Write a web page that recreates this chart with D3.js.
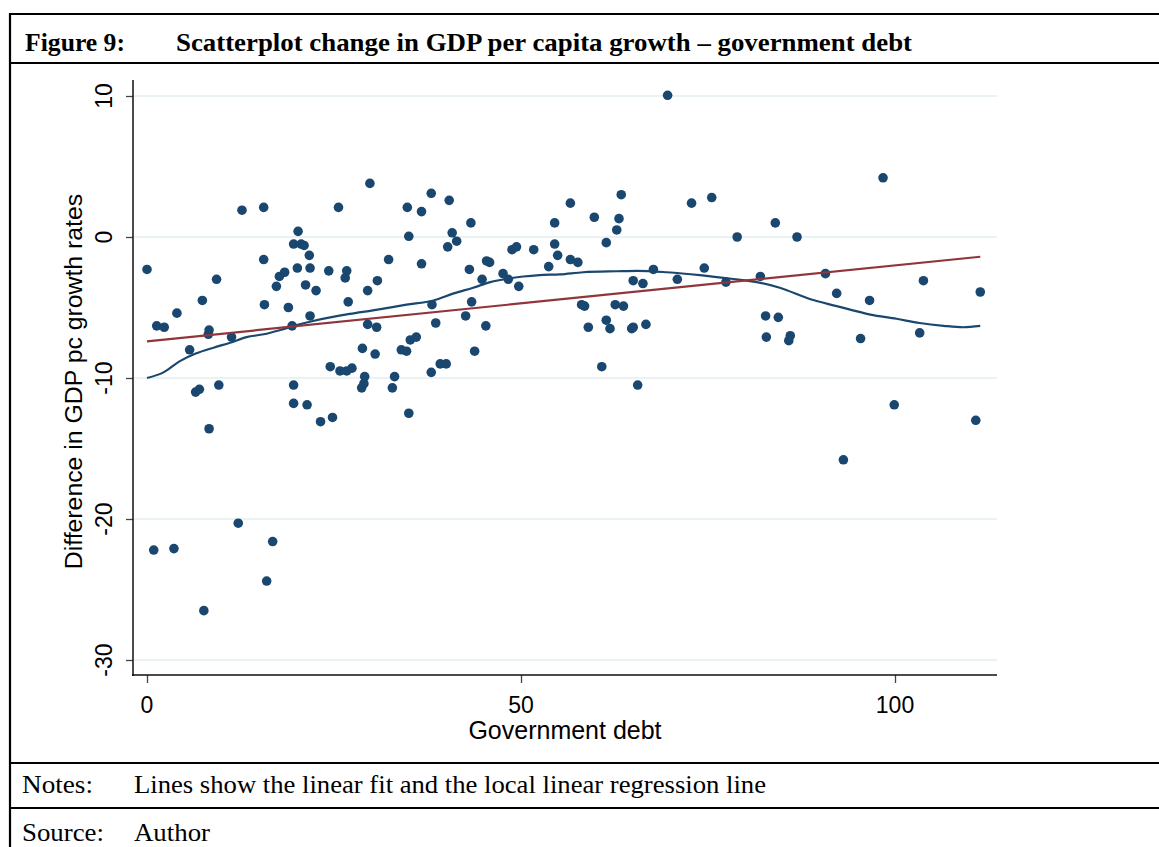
<!DOCTYPE html>
<html>
<head>
<meta charset="utf-8">
<script src="https://cdn.jsdelivr.net/npm/d3@7"></script>
<style>
  html, body { margin: 0; padding: 0; background: #fff; }
  svg { display: block; }
</style>
</head>
<body>
<svg id="chart" width="1159" height="847"></svg>
<script>
// ---------- DATA ----------
const debt = [
  0, 1.3, 2.3, 4.0, 5.7, 7.4, 8.3, 8.2, 9.3, 11.3, 12.7, 15.6, 15.6, 15.7, 17.3, 17.7, 18.4, 18.9, 19.4, 19.6,
  20.2, 20.6, 21.0, 21.7, 20.1, 21.8, 21.2, 22.6, 21.8, 24.3, 25.6, 26.5, 26.7, 26.9, 24.5, 25.8, 26.7,
  6.5, 7.0, 9.6, 8.3, 19.6, 19.6, 21.4, 23.2, 24.8, 0.9, 3.6, 12.2, 16.8, 16.0, 7.6,
  29.8, 32.3, 29.5, 30.8, 29.5, 30.7, 28.8, 30.5, 27.4, 29.1, 33.1, 34.8, 36.7, 35.0, 36.7, 38.0, 40.4, 40.8,
  41.4, 40.2, 43.3, 43.1, 45.4, 45.8, 44.8, 47.6, 48.3, 49.7, 48.8, 49.4, 51.7, 53.7, 54.5, 54.5, 54.9,
  38.1, 43.4, 38.6, 42.6, 45.3, 34.0, 34.7, 35.2, 36.0, 43.8, 38.0, 39.2, 40.0,
  29.0, 28.7, 32.8, 35.0,
  69.6, 56.6, 56.6, 57.6, 59.8, 63.1, 63.4, 62.8, 61.4, 58.1, 58.5, 59.0, 61.4, 61.9, 62.6, 63.7, 65.0, 66.3,
  64.8, 65.0, 66.7, 60.8, 67.7, 70.9, 72.8, 75.5, 74.5, 77.4, 78.9, 82.0, 84.0, 82.7, 84.4, 82.8,
  86.9, 98.4, 90.7, 92.2, 96.6, 103.8, 111.4, 86.0, 85.8, 95.4, 103.3,
  65.6, 99.9, 110.8, 93.1
];
const growthDiff = [
  -2.3, -6.3, -6.4, -5.4, -8.0, -4.5, -6.6, -6.9, -3.0, -7.1, 1.9, 2.1, -1.6, -4.8, -3.5, -2.8, -2.5, -5.0, -6.3, -0.5,
  0.4, -0.5, -0.6, -1.3, -2.2, -2.2, -3.4, -3.8, -5.6, -2.4, 2.1, -2.9, -2.4, -4.6, -9.2, -9.5, -9.5,
  -11.0, -10.8, -10.5, -13.6, -10.5, -11.8, -11.9, -13.1, -12.8, -22.2, -22.1, -20.3, -21.6, -24.4, -26.5,
  3.8, -1.6, -3.8, -3.1, -6.2, -6.4, -7.9, -8.3, -9.3, -9.9, -9.9, 2.1, 1.8, 0.05, -1.9, 3.1, 2.6, 0.3,
  -0.3, -0.7, 1.0, -2.3, -1.7, -1.8, -3.0, -2.6, -3.0, -3.5, -0.9, -0.7, -0.9, -2.1, 1.0, -0.5, -1.3,
  -4.8, -4.6, -6.1, -5.6, -6.3, -8.0, -8.1, -7.3, -7.1, -8.1, -9.6, -9.0, -9.0,
  -10.4, -10.7, -10.7, -12.5,
  10.05, 2.4, -1.6, -1.8, 1.4, 1.3, 3.0, 0.5, -0.4, -4.8, -4.9, -6.4, -5.9, -6.5, -4.8, -4.9, -3.1, -3.3,
  -6.5, -6.4, -6.2, -9.2, -2.3, -3.0, 2.4, 2.8, -2.2, -3.2, 0.0, -2.8, 1.0, -5.6, -5.7, -7.1,
  0.0, 4.2, -2.6, -4.0, -4.5, -3.1, -3.9, -7.0, -7.35, -7.2, -6.8,
  -10.5, -11.9, -13.0, -15.8
];
// linear fit (endpoints)
const linFitX = [0, 111.4];
const linFitY = [-7.4, -1.4];
// local linear regression (lowess) line
const lowessX = [0, 2.2, 4.4, 6.6, 8.9, 11.1, 13.3, 15.6, 17.8, 20.0, 22.2, 24.5, 27.1, 30.2, 34.7, 38.3, 41.0, 43.6, 45.9, 48.1,
  50.3, 52.5, 55.2, 58.3, 62.8, 65.5, 69.5, 73.9, 78.4, 81.5, 84.6, 88.6, 92.2, 96.7, 100.2, 103.3, 106.5, 109.1, 111.4];
const lowessY = [-10.0, -9.6, -8.8, -8.25, -7.85, -7.5, -7.1, -6.9, -6.6, -6.25, -5.96, -5.7, -5.45, -5.2, -4.8, -4.5, -4.0, -3.6, -3.2, -2.96,
  -2.8, -2.7, -2.65, -2.5, -2.43, -2.4, -2.5, -2.7, -2.98, -3.2, -3.6, -4.4, -4.9, -5.5, -5.8, -6.1, -6.3, -6.4, -6.3];
const xTicks = [0, 50, 100];
const yTicks = [10, 0, -10, -20, -30];

const figTitleNum = "Figure 9:";
const figTitle = "Scatterplot change in GDP per capita growth \u2013 government debt";
const xTitle = "Government debt";
const yTitle = "Difference in GDP pc growth rates";
const notesLabel = "Notes:";
const notesText = "Lines show the linear fit and the local linear regression line";
const sourceLabel = "Source:";
const sourceText = "Author";

// ---------- LAYOUT ----------
const svg = d3.select("#chart");
const plot = { left: 133, right: 997, top: 80, bottom: 675 };
const x = d3.scaleLinear().domain([0, 100]).range([147, 895]);
const y = d3.scaleLinear().domain([-30, 10]).range([660, 96]);

const navy = "#1a476f";
const maroon = "#90353b";
const serif = "'Liberation Serif', 'Times New Roman', serif";
const sans = "'Liberation Sans', Arial, sans-serif";

// frame
const frame = svg.append("g").attr("stroke", "#000").attr("stroke-width", 2.2);
frame.append("line").attr("x1", 9).attr("x2", 1159).attr("y1", 14).attr("y2", 14);
frame.append("line").attr("x1", 10).attr("x2", 10).attr("y1", 13).attr("y2", 847);
frame.append("line").attr("x1", 9).attr("x2", 1159).attr("y1", 63).attr("y2", 63);
frame.append("line").attr("x1", 9).attr("x2", 1159).attr("y1", 763).attr("y2", 763);
frame.append("line").attr("x1", 9).attr("x2", 1159).attr("y1", 808).attr("y2", 808);

// header / footer text
function serifText(tx, ty, size, bold, str, len) {
  const t = svg.append("text").attr("x", tx).attr("y", ty).attr("font-family", serif)
    .attr("font-size", size).attr("font-weight", bold ? "bold" : "normal").text(str);
  if (len) t.attr("textLength", len).attr("lengthAdjust", "spacingAndGlyphs");
  return t;
}
serifText(25, 51, 26, true, figTitleNum, 100);
serifText(176, 51, 26, true, figTitle, 736);
serifText(22, 793, 25, false, notesLabel, 71);
serifText(134, 793, 25, false, notesText, 632);
serifText(22, 841, 25, false, sourceLabel, 82);
serifText(134, 841, 25, false, sourceText, 76);

// gridlines
svg.append("g").selectAll("line").data(yTicks).join("line")
  .attr("x1", plot.left).attr("x2", plot.right)
  .attr("y1", d => y(d)).attr("y2", d => y(d))
  .attr("stroke", "#eaf2f4").attr("stroke-width", 2);

// axes
const yAxis = d3.axisLeft(y).tickValues(yTicks).tickSize(7).tickFormat(d3.format("d"));
const gy = svg.append("g").attr("transform", `translate(${plot.left},0)`).call(yAxis);
gy.select(".domain").remove();
gy.selectAll(".tick line").attr("stroke", "#444").attr("stroke-width", 1.3);
gy.selectAll(".tick text").remove();
svg.append("line").attr("x1", plot.left).attr("x2", plot.left).attr("y1", plot.top).attr("y2", plot.bottom + 1)
  .attr("stroke", "#111").attr("stroke-width", 1.5);
svg.append("g").selectAll("text").data(yTicks).join("text")
  .attr("transform", d => `translate(112,${y(d)}) rotate(-90)`)
  .attr("text-anchor", "middle").attr("font-family", sans).attr("font-size", 23).attr("fill", "#000")
  .text(d => d3.format("d")(d).replace("\u2212", "-"));

const xAxis = d3.axisBottom(x).tickValues(xTicks).tickSize(8).tickFormat(d3.format("d"));
const gx = svg.append("g").attr("transform", `translate(0,${plot.bottom})`).call(xAxis);
gx.select(".domain").remove();
gx.selectAll(".tick line").attr("stroke", "#444").attr("stroke-width", 1.3);
gx.selectAll(".tick text").remove();
svg.append("line").attr("x1", plot.left - 1).attr("x2", plot.right).attr("y1", plot.bottom).attr("y2", plot.bottom)
  .attr("stroke", "#111").attr("stroke-width", 1.5);
svg.append("g").selectAll("text").data(xTicks).join("text")
  .attr("x", d => x(d)).attr("y", 713)
  .attr("text-anchor", "middle").attr("font-family", sans).attr("font-size", 23).attr("fill", "#000")
  .text(d => d3.format("d")(d));

// axis titles
svg.append("text").attr("x", (plot.left + plot.right) / 2).attr("y", 739)
  .attr("text-anchor", "middle").attr("font-family", sans).attr("font-size", 25).text(xTitle);
svg.append("text").attr("transform", `translate(82,${(plot.top + plot.bottom) / 2 + 4}) rotate(-90)`)
  .attr("text-anchor", "middle").attr("font-family", sans).attr("font-size", 24.8).text(yTitle);

// points
const pts = debt.map((d, i) => ({ x: d, y: growthDiff[i] }));
svg.append("g").selectAll("circle").data(pts).join("circle")
  .attr("cx", d => x(d.x)).attr("cy", d => y(d.y)).attr("r", 4.8).attr("fill", navy);

// lowess line
const line = d3.line().x(d => x(d[0])).y(d => y(d[1])).curve(d3.curveMonotoneX);
svg.append("path").datum(lowessX.map((d, i) => [d, lowessY[i]]))
  .attr("d", line).attr("fill", "none").attr("stroke", navy).attr("stroke-width", 2.2);
// linear fit
svg.append("path").datum(linFitX.map((d, i) => [d, linFitY[i]]))
  .attr("d", d3.line().x(d => x(d[0])).y(d => y(d[1]))).attr("fill", "none")
  .attr("stroke", maroon).attr("stroke-width", 2.2);
</script>
</body>
</html>
